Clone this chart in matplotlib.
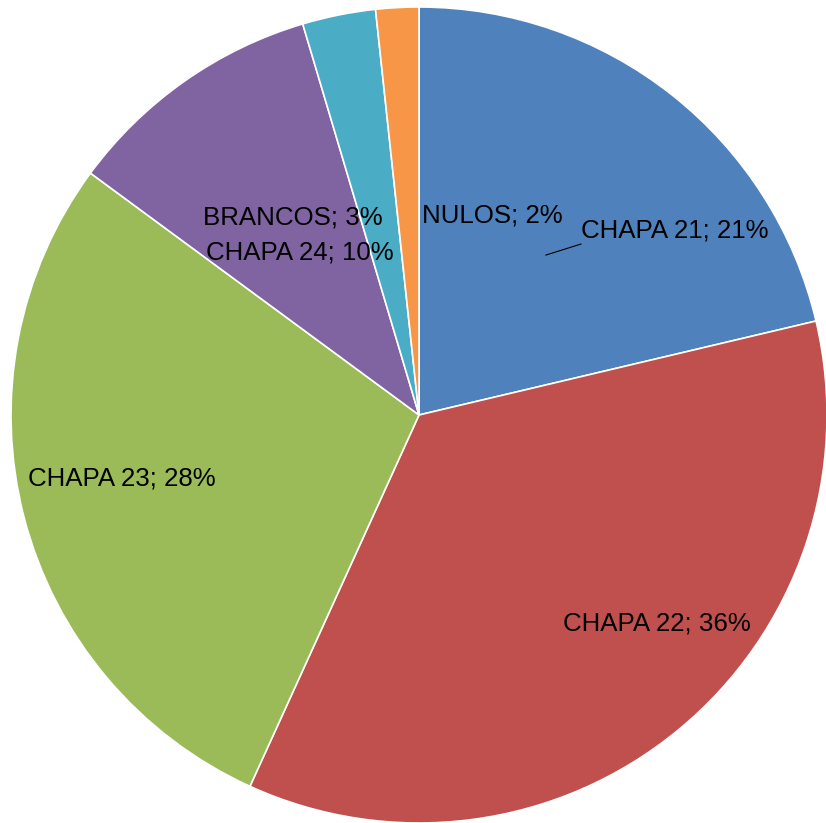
import matplotlib.pyplot as plt

# slice data (clockwise from 12 o'clock)
labels = ["CHAPA 21", "CHAPA 22", "CHAPA 23", "CHAPA 24", "BRANCOS", "NULOS"]
values = [21.3, 35.5, 28.3, 10.3, 2.9, 1.7]
colors = ["#4F81BD", "#C0504D", "#9BBB59", "#8064A2", "#4BACC6", "#F79646"]

# label anchor spots, in pie-radius units (text centre x, baseline y)
label_pos = [(0.627, 0.434), (0.583, -0.527), (-0.728, -0.172),
             (-0.292, 0.382), (-0.309, 0.466), (0.179, 0.473)]

plt.rcParams['font.family'] = ['Liberation Sans', 'DejaVu Sans']

fig = plt.figure(figsize=(8.26, 8.23), dpi=100)
ax = fig.add_axes([0, 0, 1, 1])

ax.pie(values, colors=colors, startangle=90, counterclock=False,
       radius=1.0, wedgeprops=dict(edgecolor="white", linewidth=1.2))

total = sum(values)
for lab, v, (x, y) in zip(labels, values, label_pos):
    ax.text(x, y, f"{lab}; {round(v / total * 100):.0f}%", ha="center",
            va="baseline", fontsize=18.6, color="black")

# leader line for CHAPA 21
ax.plot([0.311, 0.397], [0.392, 0.419], color="black", linewidth=0.8)

ax.set_xlim(-419 / 408, 407 / 408)
ax.set_ylim(-408 / 408, 415 / 408)
ax.set_aspect("auto")
ax.axis("off")

fig.savefig("out.png", dpi=100, facecolor="white")
